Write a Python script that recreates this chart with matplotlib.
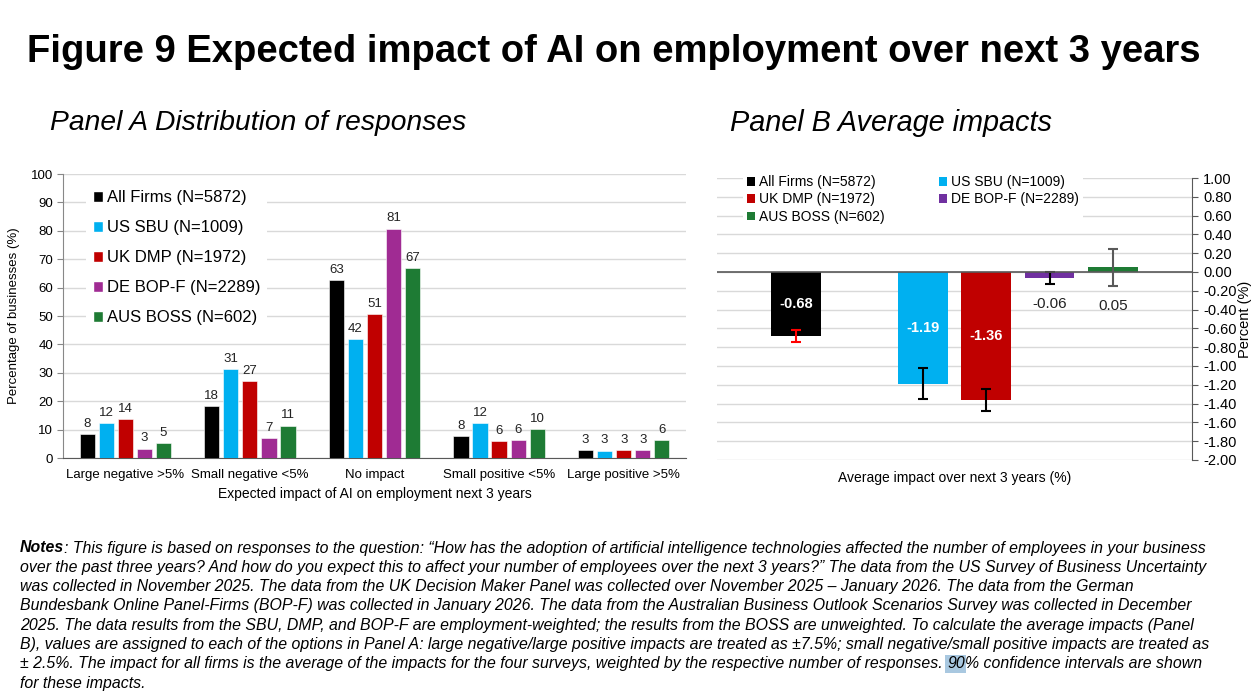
import numpy as np
import matplotlib
matplotlib.use("Agg")
import matplotlib.pyplot as plt
from matplotlib.patches import Patch

# Panel A data: distribution of responses (%)
categories = ["Large negative >5%", "Small negative <5%", "No impact",
              "Small positive <5%", "Large positive >5%"]
series = ["All Firms (N=5872)", "US SBU (N=1009)", "UK DMP (N=1972)",
          "DE BOP-F (N=2289)", "AUS BOSS (N=602)"]
all_firms = [8.4, 18.4, 62.7, 7.7, 2.8]
us_sbu = [12.2, 31.2, 42.0, 12.3, 2.6]
uk_dmp = [13.6, 27.2, 50.8, 5.9, 2.7]
de_bopf = [3.3, 7.0, 80.8, 6.3, 2.7]
aus_boss = [5.3, 11.4, 67.0, 10.2, 6.3]

# Panel B data: average impacts (%) with 90% CIs
avg_impact = [-0.68, -1.19, -1.36, -0.06, 0.05]
ci_low = [-0.74, -1.35, -1.48, -0.13, -0.15]
ci_high = [-0.62, -1.02, -1.25, 0.00, 0.24]

colors_a = ["#000000", "#00B0F0", "#C00000", "#A02B93", "#1E7B34"]
colors_b = ["#000000", "#00B0F0", "#C00000", "#7030A0", "#1E7B34"]
err_colors = ["#FF0000", "#000000", "#000000", "#000000", "#595959"]

plt.rcParams["font.family"] = ["Liberation Sans", "DejaVu Sans"]

fig = plt.figure(figsize=(12.57, 7.0), dpi=100)
fig.patch.set_facecolor("white")

fig.text(0.4885, 0.926, "Figure 9 Expected impact of AI on employment over next 3 years",
         ha="center", va="center", fontsize=27.5, fontweight="bold")
fig.text(0.040, 0.824, "Panel A Distribution of responses", ha="left", va="center",
         fontsize=20.3, style="italic")
fig.text(0.581, 0.824, "Panel B Average impacts", ha="left", va="center",
         fontsize=20.8, style="italic")

# ---------------- Panel A ----------------
ax = fig.add_axes([0.0501, 0.3457, 0.4956, 0.4057])
data_a = [all_firms, us_sbu, uk_dmp, de_bopf, aus_boss]
x = np.arange(len(categories))
step = 0.153
width = 0.122
for i, (vals, c) in enumerate(zip(data_a, colors_a)):
    pos = x + (i - 2) * step
    bars = ax.bar(pos, vals, width, color=c, edgecolor="white", linewidth=0.4, zorder=3)
    for b, v in zip(bars, vals):
        ax.annotate(f"{v:.0f}", (b.get_x() + b.get_width() / 2, v), xytext=(0, 3),
                    textcoords="offset points", ha="center", va="bottom",
                    fontsize=9.5, color="#222222", zorder=6)

ax.set_ylim(0, 100)
ax.set_xlim(-0.5, len(categories) - 0.5)
ax.set_yticks(np.arange(0, 101, 10))
ax.yaxis.grid(True, color="#d9d9d9", linewidth=1)
ax.set_axisbelow(True)
for s in ["top", "right"]:
    ax.spines[s].set_visible(False)
ax.spines["left"].set_color("#888888")
ax.spines["bottom"].set_color("#595959")
ax.tick_params(axis="y", length=4, color="#888888", labelsize=9.5, pad=3)
ax.tick_params(axis="x", length=0, labelsize=9.5, pad=8)
ax.set_xticks(x)
ax.set_xticklabels(categories)
ax.set_ylabel("Percentage of businesses (%)", fontsize=9.5, labelpad=8)
ax.set_xlabel("Expected impact of AI on employment next 3 years", fontsize=10,
              labelpad=4)

handles_a = [Patch(facecolor=c, edgecolor="white") for c in colors_a]
leg = ax.legend(handles_a, series, loc="upper left", bbox_to_anchor=(0.024, 0.995),
                fontsize=12, handlelength=0.6, handleheight=0.6,
                handletextpad=0.25, labelspacing=0.9, frameon=True, borderpad=0.4)
leg.get_frame().set_facecolor("white")
leg.get_frame().set_edgecolor("none")
leg.get_frame().set_alpha(1)
leg.set_zorder(2)

# ---------------- Panel B ----------------
bx = fig.add_axes([0.5704, 0.3429, 0.3779, 0.4028])
idx = np.arange(len(avg_impact))
xb = idx + (idx > 0)
yerr = [np.array(avg_impact) - np.array(ci_low), np.array(ci_high) - np.array(avg_impact)]
bx.bar(xb, avg_impact, 0.78, color=colors_b, zorder=3)
for i in idx:
    bx.errorbar(xb[i], avg_impact[i], yerr=[[yerr[0][i]], [yerr[1][i]]], fmt="none",
                ecolor=err_colors[i], elinewidth=1.5, capsize=3.5, capthick=1.5, zorder=4)
    v = avg_impact[i]
    if abs(v) > 0.5:
        bx.text(xb[i], v / 2, f"{v:.2f}", ha="center", va="center", color="white",
                fontsize=10.5, fontweight="bold", zorder=5)
    else:
        bx.annotate(f"{v:.2f}", (xb[i], ci_low[i]), xytext=(0, -9), textcoords="offset points",
                    ha="center", va="top", fontsize=11, color="#222222", zorder=5)

bx.axhline(0, color="#595959", linewidth=1.2, zorder=4)
bx.set_ylim(-2.0, 1.0)
bx.set_xlim(-1.25, 6.25)
bx.set_yticks(np.round(np.arange(-2.0, 1.01, 0.2), 2))
bx.yaxis.set_major_formatter(matplotlib.ticker.FuncFormatter(lambda v, p: f"{v + 0:.2f}"))
bx.yaxis.tick_right()
bx.yaxis.set_label_position("right")
bx.yaxis.grid(True, color="#d9d9d9", linewidth=1)
bx.set_axisbelow(True)
for s in ["top", "left", "bottom"]:
    bx.spines[s].set_visible(False)
bx.spines["right"].set_color("#595959")
bx.tick_params(axis="y", length=4, color="#595959", labelsize=10.5, pad=4)
bx.set_xticks([])
bx.set_ylabel("Percent (%)", fontsize=10.5, labelpad=1)
bx.set_xlabel("Average impact over next 3 years (%)", fontsize=10, labelpad=8)

order = [0, 2, 4, 1, 3]
handles_b = [Patch(facecolor=colors_b[i]) for i in order]
leg_b = bx.legend(handles_b, [series[i] for i in order], ncol=2, loc="upper left",
                  bbox_to_anchor=(0.04, 1.05), fontsize=10, handlelength=0.6,
                  handleheight=0.6, handletextpad=0.25, labelspacing=0.25,
                  columnspacing=3.9, frameon=True, borderpad=0.3)
leg_b.get_frame().set_facecolor("white")
leg_b.get_frame().set_edgecolor("none")
leg_b.get_frame().set_alpha(1)

# ---------------- Notes ----------------
note_lines = [
    ": This figure is based on responses to the question: \u201cHow has the adoption of artificial intelligence technologies affected the number of employees in your business",
    "over the past three years? And how do you expect this to affect your number of employees over the next 3 years?\u201d The data from the US Survey of Business Uncertainty",
    "was collected in November 2025. The data from the UK Decision Maker Panel was collected over November 2025 \u2013 January 2026. The data from the German",
    "Bundesbank Online Panel-Firms (BOP-F) was collected in January 2026. The data from the Australian Business Outlook Scenarios Survey was collected in December",
    "2025. The data results from the SBU, DMP, and BOP-F are employment-weighted; the results from the BOSS are unweighted. To calculate the average impacts (Panel",
    "B), values are assigned to each of the options in Panel A: large negative/large positive impacts are treated as \u00b17.5%; small negative/small positive impacts are treated as",
    "\u00b1 2.5%. The impact for all firms is the average of the impacts for the four surveys, weighted by the respective number of responses. ",
    "for these impacts.",
]
nfs = 11.4
y0 = 1 - 548 / 700
dy = 19.3 / 700
xn = 20 / 1257
for k, line in enumerate(note_lines):
    y = y0 - k * dy
    if k == 0:
        t0 = fig.text(xn, y, "Notes", ha="left", va="center", fontsize=nfs,
                      style="italic", fontweight="bold")
        plt.annotate(line, xy=(1, 0.5), xycoords=t0, va="center", ha="left",
                     fontsize=nfs, style="italic")
    elif k == 6:
        t1 = fig.text(xn, y, line, ha="left", va="center", fontsize=nfs, style="italic")
        t2 = plt.annotate("90", xy=(1, 0.5), xycoords=t1, va="center", ha="left",
                          fontsize=nfs, style="italic",
                          bbox=dict(boxstyle="square,pad=0.1", facecolor="#a9c8e0",
                                    edgecolor="none"))
        plt.annotate("% confidence intervals are shown", xy=(1, 0.5), xycoords=t2,
                     va="center", ha="left", fontsize=nfs, style="italic")
    else:
        fig.text(xn, y, line, ha="left", va="center", fontsize=nfs, style="italic")

fig.savefig("out.png", dpi=100, facecolor="white")
